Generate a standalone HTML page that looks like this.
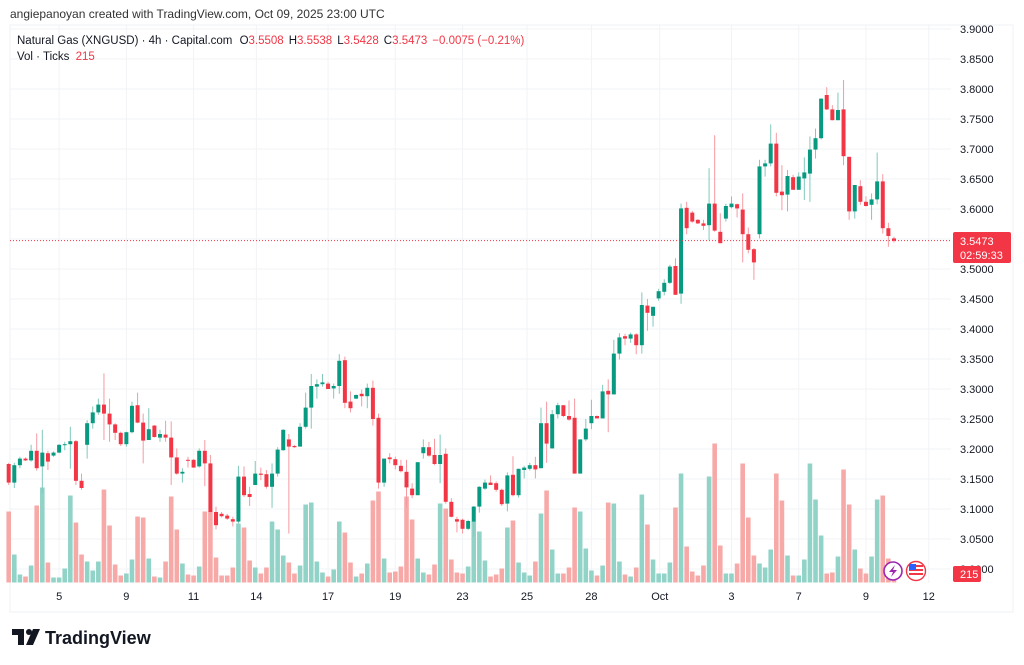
<!DOCTYPE html>
<html><head><meta charset="utf-8"><style>
html,body{margin:0;padding:0;background:#fff;}
svg{display:block;font-family:"Liberation Sans",sans-serif;}
</style></head><body>
<svg id="chart" width="1024" height="665" viewBox="0 0 1024 665">
<text x="10" y="18" font-size="12" fill="#333">angiepanoyan created with TradingView.com, Oct 09, 2025 23:00 UTC</text>
<rect x="10" y="25" width="1003" height="587" fill="none" stroke="#eef0f4"/>
<g id="grid"></g>
<g id="vols"></g>
<g id="candles"></g>
<line x1="10" x2="951" y1="240.6" y2="240.6" stroke="#f23645" stroke-width="1" stroke-dasharray="1,2"/>
<g id="yaxis"></g>
<g id="xaxis"></g>
<text x="17" y="44" font-size="11.5" fill="#131722">Natural Gas (XNGUSD) · 4h · Capital.com <tspan dx="4">O</tspan><tspan fill="#f23645">3.5508</tspan><tspan dx="5">H</tspan><tspan fill="#f23645">3.5538</tspan><tspan dx="5">L</tspan><tspan fill="#f23645">3.5428</tspan><tspan dx="5">C</tspan><tspan fill="#f23645">3.5473</tspan><tspan dx="5" fill="#f23645">−0.0075 (−0.21%)</tspan></text>
<text x="17" y="60" font-size="11.5" fill="#131722">Vol · Ticks <tspan dx="3" fill="#f23645">215</tspan></text>
<g id="labels"></g>
<g>
<rect x="953" y="232" width="58" height="31" rx="2" fill="#f23645"/>
<text x="960" y="245" font-size="11" fill="#fff">3.5473</text>
<text x="960" y="259" font-size="11" fill="#fff">02:59:33</text>
</g>
<g>
<rect x="953" y="566" width="28" height="16" rx="2" fill="#f23645"/>
<text x="960" y="578" font-size="11" fill="#fff">215</text>
</g>
<g>
<circle cx="893" cy="571" r="9" fill="#fff" stroke="#9c27b0" stroke-width="1.6"/>
<path d="M895 565 L889 572 L893 572 L891 577 L897 570 L893 570 Z" fill="#9c27b0"/>
</g>
<g>
<circle cx="916" cy="571" r="9.5" fill="#fff" stroke="#f23645" stroke-width="1.4"/>
<rect x="909" y="565" width="14" height="2" fill="#f23645"/><rect x="909" y="569" width="14" height="2" fill="#f23645"/><rect x="909" y="573" width="14" height="2" fill="#f23645"/>
<rect x="909" y="564" width="7" height="6" fill="#2962ff"/>
</g>
<g>
<path d="M12 629 H24 V645 H18 V635 H12 Z" fill="#131722"/>
<circle cx="29" cy="632" r="3" fill="#131722"/>
<path d="M33 629 H40 L33 645 H26 Z" fill="#131722"/>
<text x="45" y="644" font-size="18" font-weight="bold" fill="#131722">TradingView</text>
</g>
</svg>
<script>
const priceTicks=[3.0,3.05,3.1,3.15,3.2,3.25,3.3,3.35,3.4,3.45,3.5,3.55,3.6,3.65,3.7,3.75,3.8,3.85,3.9];
const dayLabels=["5","9","11","14","17","19","23","25","28","Oct","3","7","9","12"];
const dayBarIndex=[9.0,21.0,33.0,44.2,57.0,69.0,81.0,92.5,104.0,116.2,129.0,141.0,153.0,164.2];
const opens=[3.175,3.144,3.173,3.184,3.181,3.197,3.171,3.193,3.189,3.194,3.207,3.208,3.213,3.147,3.207,3.243,3.261,3.274,3.259,3.241,3.227,3.208,3.228,3.273,3.244,3.215,3.239,3.219,3.224,3.219,3.186,3.159,3.182,3.182,3.171,3.197,3.176,3.095,3.092,3.089,3.083,3.079,3.154,3.125,3.140,3.159,3.158,3.137,3.159,3.198,3.216,3.205,3.204,3.237,3.269,3.304,3.308,3.309,
3.301,3.305,3.348,3.279,3.284,3.292,3.288,3.302,3.252,3.144,3.186,3.183,3.172,3.162,3.134,3.123,3.193,3.203,3.190,3.175,3.192,3.112,3.083,3.082,3.067,3.079,3.104,3.134,3.144,3.143,3.132,3.109,3.157,3.123,3.165,3.167,3.173,3.168,3.243,3.201,3.258,3.273,3.255,3.252,3.159,3.216,3.243,3.255,3.251,3.297,3.291,
3.359,3.388,3.384,3.391,3.373,3.439,3.422,3.451,3.462,3.477,3.505,3.459,3.602,3.594,3.582,3.576,3.573,3.609,3.562,3.584,3.603,3.608,3.599,3.558,3.533,3.558,3.671,3.676,3.709,3.629,3.624,3.653,3.632,3.651,3.659,3.699,3.718,3.790,3.766,3.748,3.766,3.687,3.596,3.638,3.612,3.607,3.616,3.646,3.568,3.551];
const highs=[3.177,3.177,3.187,3.186,3.207,3.226,3.232,3.197,3.196,3.208,3.212,3.237,3.215,3.159,3.248,3.271,3.284,3.326,3.284,3.243,3.229,3.229,3.279,3.294,3.259,3.268,3.240,3.232,3.247,3.246,3.201,3.168,3.187,3.183,3.201,3.215,3.190,3.104,3.095,3.092,3.087,3.172,3.171,3.137,3.180,3.169,3.165,3.176,3.203,3.233,3.225,3.207,3.243,3.294,3.325,3.316,3.325,3.312,
3.309,3.358,3.354,3.296,3.291,3.299,3.309,3.314,3.259,3.184,3.193,3.187,3.182,3.182,3.143,3.178,3.216,3.212,3.217,3.224,3.201,3.118,3.087,3.084,3.082,3.105,3.138,3.149,3.156,3.146,3.134,3.161,3.188,3.167,3.172,3.177,3.187,3.269,3.279,3.265,3.277,3.273,3.281,3.284,3.216,3.250,3.282,3.256,3.307,3.316,3.382,
3.393,3.392,3.394,3.393,3.461,3.450,3.437,3.467,3.483,3.507,3.518,3.609,3.612,3.597,3.583,3.582,3.668,3.723,3.593,3.609,3.621,3.609,3.626,3.569,3.535,3.682,3.682,3.741,3.727,3.673,3.665,3.657,3.661,3.686,3.721,3.734,3.784,3.803,3.773,3.794,3.815,3.687,3.640,3.648,3.621,3.626,3.694,3.658,3.577,3.554];
const lows=[3.140,3.135,3.168,3.180,3.179,3.164,3.126,3.165,3.187,3.193,3.198,3.167,3.140,3.132,3.184,3.234,3.257,3.215,3.212,3.215,3.205,3.204,3.226,3.243,3.176,3.215,3.219,3.212,3.212,3.140,3.157,3.144,3.169,3.169,3.169,3.138,3.093,3.066,3.086,3.082,3.071,3.076,3.120,3.105,3.140,3.148,3.134,3.102,3.154,3.197,3.059,3.202,3.204,3.234,3.234,3.284,3.304,3.300,
3.284,3.292,3.268,3.261,3.283,3.271,3.268,3.239,3.134,3.137,3.176,3.166,3.161,3.103,3.118,3.123,3.184,3.187,3.173,3.143,3.109,3.086,3.061,3.059,3.065,3.054,3.094,3.132,3.140,3.129,3.105,3.096,3.121,3.119,3.151,3.164,3.151,3.168,3.177,3.201,3.251,3.253,3.247,3.159,3.159,3.213,3.233,3.251,3.251,3.228,3.291,
3.349,3.373,3.377,3.358,3.359,3.397,3.404,3.447,3.456,3.475,3.457,3.442,3.558,3.577,3.575,3.565,3.548,3.562,3.543,3.579,3.601,3.586,3.511,3.526,3.482,3.551,3.654,3.671,3.621,3.598,3.596,3.632,3.632,3.615,3.612,3.684,3.716,3.765,3.748,3.748,3.673,3.582,3.584,3.607,3.604,3.582,3.608,3.559,3.537,3.544];
const closes=[3.144,3.173,3.184,3.181,3.197,3.168,3.194,3.179,3.194,3.207,3.208,3.213,3.147,3.135,3.243,3.261,3.274,3.259,3.241,3.227,3.208,3.228,3.272,3.244,3.214,3.233,3.220,3.225,3.219,3.186,3.159,3.162,3.181,3.169,3.197,3.176,3.095,3.073,3.088,3.084,3.079,3.154,3.123,3.120,3.159,3.157,3.137,3.159,3.199,3.232,3.204,3.203,3.237,3.269,3.305,3.308,3.311,3.300,
3.305,3.347,3.277,3.268,3.290,3.288,3.302,3.250,3.144,3.184,3.183,3.173,3.163,3.136,3.123,3.178,3.203,3.189,3.175,3.190,3.112,3.087,3.079,3.067,3.080,3.104,3.137,3.144,3.140,3.132,3.108,3.156,3.123,3.167,3.169,3.173,3.166,3.243,3.209,3.258,3.273,3.255,3.249,3.159,3.216,3.234,3.255,3.251,3.296,3.291,3.359,
3.386,3.384,3.391,3.373,3.440,3.427,3.437,3.463,3.477,3.504,3.457,3.601,3.568,3.579,3.576,3.572,3.609,3.564,3.543,3.605,3.609,3.601,3.558,3.532,3.511,3.671,3.676,3.709,3.627,3.623,3.655,3.632,3.654,3.661,3.699,3.718,3.784,3.766,3.748,3.765,3.688,3.596,3.640,3.612,3.605,3.616,3.646,3.568,3.555,3.547];
const volumes=[710,280,80,60,170,770,950,200,50,50,140,870,600,280,210,120,210,930,570,180,70,90,230,660,650,240,60,50,210,860,530,190,80,70,160,710,710,250,70,70,150,590,550,220,150,90,150,610,530,270,200,90,170,780,800,210,100,60,
130,610,500,200,60,90,190,820,910,240,100,110,160,860,630,240,100,80,180,790,740,230,100,90,160,610,510,220,60,80,140,550,620,200,100,70,210,690,920,330,90,90,150,750,710,340,120,70,170,800,790,
210,80,60,150,880,580,230,90,90,200,750,1090,360,110,70,170,1060,1390,370,90,90,190,1190,650,270,190,150,330,1090,820,270,70,70,230,1190,830,470,90,100,260,1130,780,330,140,90,260,830,870,240,60];

const NS="http://www.w3.org/2000/svg";
function xOf(i){return 8.7+i*5.603;}
function yOf(p){return 29+(3.9-p)*600;}
function vH(v){return v/10;}
const VBASE=582.5;
function mk(tag,attrs,parent){const e=document.createElementNS(NS,tag);for(const k in attrs)e.setAttribute(k,attrs[k]);parent.appendChild(e);return e;}
const grid=document.getElementById('grid'),yaxis=document.getElementById('yaxis'),xaxis=document.getElementById('xaxis');
const candles=document.getElementById('candles'),vols=document.getElementById('vols');
priceTicks.forEach(p=>{
  const y=yOf(p);
  const gl=mk('line',{x1:10,x2:951,y1:y,y2:y,stroke:'#f2f3f6','stroke-width':1},grid);
  
  
  const t=mk('text',{x:960,y:y+4,'font-size':11,fill:'#131722'},yaxis);
  t.textContent=p.toFixed(4);
  
  
});
dayLabels.forEach((d,k)=>{
  const x=xOf(dayBarIndex[k]);
  const gl=mk('line',{x1:x,x2:x,y1:25,y2:583,stroke:'#f2f3f6','stroke-width':1},grid);
  
  
  const t=mk('text',{x:x,y:600,'font-size':11,fill:'#131722','text-anchor':'middle'},xaxis);
  t.textContent=d;
  
  
});
for(let i=0;i<closes.length;i++){
  const up=closes[i]>=opens[i];
  const col=up?'#089981':'#f23645';
  const x=xOf(i);
  const h=vH(volumes[i]);
  const vb=mk('rect',{x:x-2.3,y:VBASE-h,width:4.6,height:h,fill:up?'#92d3c8':'#f7a9a8'},vols);
  
  
  const g=mk('g',{},candles);
  
  
  mk('line',{x1:x,x2:x,y1:yOf(highs[i]),y2:yOf(lows[i]),stroke:up?'#7fc9bc':'#f69aa2','stroke-width':1},g);
  const top=yOf(Math.max(opens[i],closes[i])),bot=yOf(Math.min(opens[i],closes[i]));
  mk('rect',{x:x-2,y:top,width:4,height:Math.max(1,bot-top),fill:col},g);
}
</script>
</body></html>
